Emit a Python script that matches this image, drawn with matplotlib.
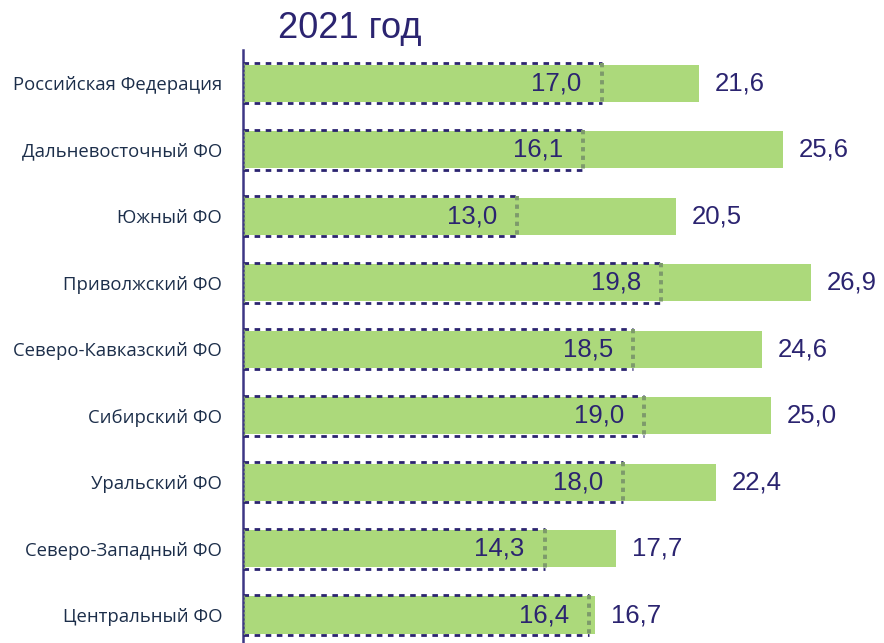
import matplotlib.pyplot as plt

regions = ['Российская Федерация', 'Дальневосточный ФО', 'Южный ФО', 'Приволжский ФО',
           'Северо-Кавказский ФО', 'Сибирский ФО', 'Уральский ФО', 'Северо-Западный ФО',
           'Центральный ФО']
values_2021 = [21.6, 25.6, 20.5, 26.9, 24.6, 25.0, 22.4, 17.7, 16.7]
values_prev = [17.0, 16.1, 13.0, 19.8, 18.5, 19.0, 18.0, 14.3, 16.4]
title = '2021 год'

GREEN = '#acd97b'
NAVY = '#2b2470'
LABEL = '#1c2e4a'
GREY = '#7d9a6b'

W, H = 884, 643
fig = plt.figure(figsize=(W / 100, H / 100), dpi=100)
# axes placed in pixel coordinates: left edge at the vertical axis line
ax = fig.add_axes([243 / W, 0, (W - 243) / W, (H - 50) / H])
ax.set_xlim(0, (W - 243) / 21.1)
ax.set_ylim(8.42, -0.5)

y = list(range(len(regions)))
ax.barh(y, values_2021, height=0.56, color=GREEN, zorder=1)

for i, (v, p) in enumerate(zip(values_2021, values_prev)):
    h = 0.6
    # dotted box for the previous value
    ax.plot([0, p], [i - h / 2, i - h / 2], color=NAVY, lw=2, ls=(0, (2, 2)), zorder=3)
    ax.plot([0, p], [i + h / 2, i + h / 2], color=NAVY, lw=2, ls=(0, (2, 2)), zorder=3)
    ax.plot([p, p], [i - h / 2, i + h / 2], color=GREY, lw=2.8, ls=(0, (1.1, 1.1)), zorder=3)
    ax.plot([0.05, 0.05], [i - h / 2, i + h / 2], color=GREY, lw=1, ls=(0, (1.5, 1.5)), zorder=3)
    ax.annotate(f'{p:.1f}'.replace('.', ','), (p, i), xytext=(-20, 0), textcoords='offset pixels',
                ha='right', va='center', fontsize=18.5, color=NAVY, family='Liberation Sans', zorder=4)
    ax.annotate(f'{v:.1f}'.replace('.', ','), (v, i), xytext=(16, 0), textcoords='offset pixels',
                ha='left', va='center', fontsize=18.5, color=NAVY, family='Liberation Sans')

for s in ['top', 'right', 'bottom']:
    ax.spines[s].set_visible(False)
ax.spines['left'].set_color('#3d3785')
ax.spines['left'].set_linewidth(1.8)
ax.set_xticks([])
ax.set_yticks(y)
ax.set_yticklabels(regions, fontsize=13.3, color=LABEL, family='Open Sans')
ax.tick_params(axis='y', length=0, pad=15)

fig.text(350 / W, 1 - 28 / H, title, ha='center', va='center', fontsize=26,
         color=NAVY, family='Liberation Sans')

fig.savefig('out.png', dpi=100)
